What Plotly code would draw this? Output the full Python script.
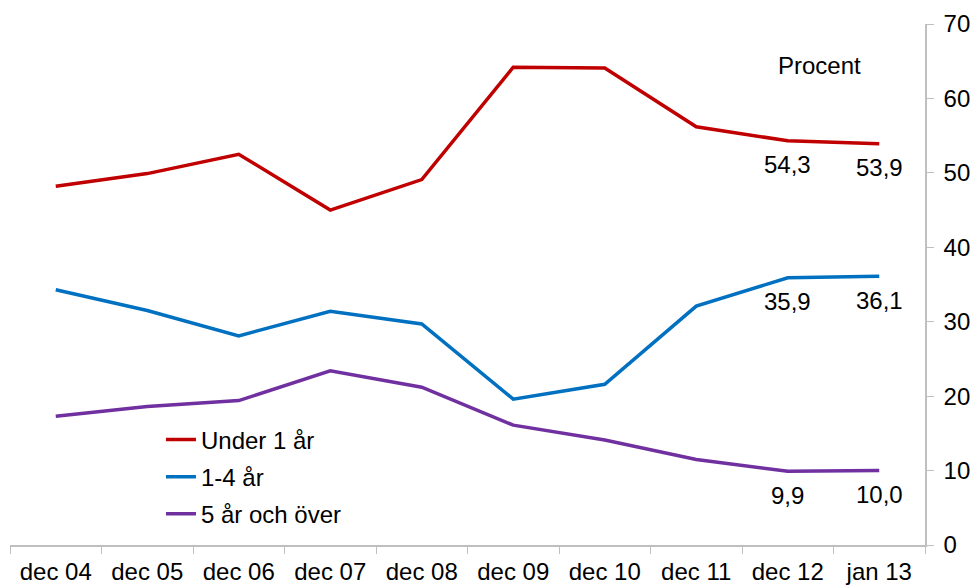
import plotly.graph_objects as go

categories = ["dec 04", "dec 05", "dec 06", "dec 07", "dec 08", "dec 09", "dec 10", "dec 11", "dec 12", "jan 13"]
under_1 = [48.2, 49.9, 52.5, 45.0, 49.1, 64.2, 64.1, 56.2, 54.3, 53.9]
one_to_four = [34.3, 31.5, 28.1, 31.4, 29.7, 19.6, 21.6, 32.1, 35.9, 36.1]
five_plus = [17.3, 18.6, 19.4, 23.4, 21.2, 16.1, 14.1, 11.5, 9.9, 10.0]
y_ticks = [0, 10, 20, 30, 40, 50, 60, 70]

series = [
    ("Under 1 år", under_1, "#C00000"),
    ("1-4 år", one_to_four, "#0070C0"),
    ("5 år och över", five_plus, "#7030A0"),
]

fig = go.Figure()
for name, vals, col in series:
    fig.add_trace(go.Scatter(x=categories, y=vals, name=name, mode="lines", legendgroup=name,
                             line=dict(color=col, width=3.5)))

font = dict(family="Liberation Sans, Arial, sans-serif", size=24, color="#000000")

for name, vals, col in series:
    for i in (8, 9):
        fig.add_annotation(x=categories[i], y=vals[i], text=f"{vals[i]:.1f}".replace(".", ","),
                           showarrow=False, yshift=-24, font=font, xref="x", yref="y")

fig.add_annotation(x=0.885, y=0.92, xref="paper", yref="paper", text="Procent",
                   xanchor="center", yanchor="middle", showarrow=False, font=font)

fig.update_layout(
    width=977, height=586,
    margin=dict(l=10, r=52, t=24, b=41),
    paper_bgcolor="white", plot_bgcolor="white",
    font=font,
    showlegend=True,
    legend=dict(x=0.165, y=0.245, xanchor="left", yanchor="top",
                bgcolor="rgba(0,0,0,0)", font=font, tracegroupgap=3,
                itemwidth=30),
)
fig.update_xaxes(type="category", range=[-0.5, 9.5], showgrid=False, automargin=False,
                 showline=True, linecolor="#BFBFBF", linewidth=1.5,
                 ticks="outside", tickson="boundaries", ticklen=7, tickcolor="#BFBFBF",
                 tickfont=font, zeroline=False, ticklabelstandoff=4)
fig.update_yaxes(side="right", range=[0, 70], tickvals=y_ticks, showgrid=False, automargin=False,
                 showline=True, linecolor="#BFBFBF", linewidth=1.5,
                 ticks="outside", ticklen=7, tickcolor="#BFBFBF",
                 tickfont=font, zeroline=False, ticklabelstandoff=5)

fig.write_html("out.html", config={"displayModeBar": False},
               post_script="document.body.style.margin='0';document.body.style.overflow='hidden';")
